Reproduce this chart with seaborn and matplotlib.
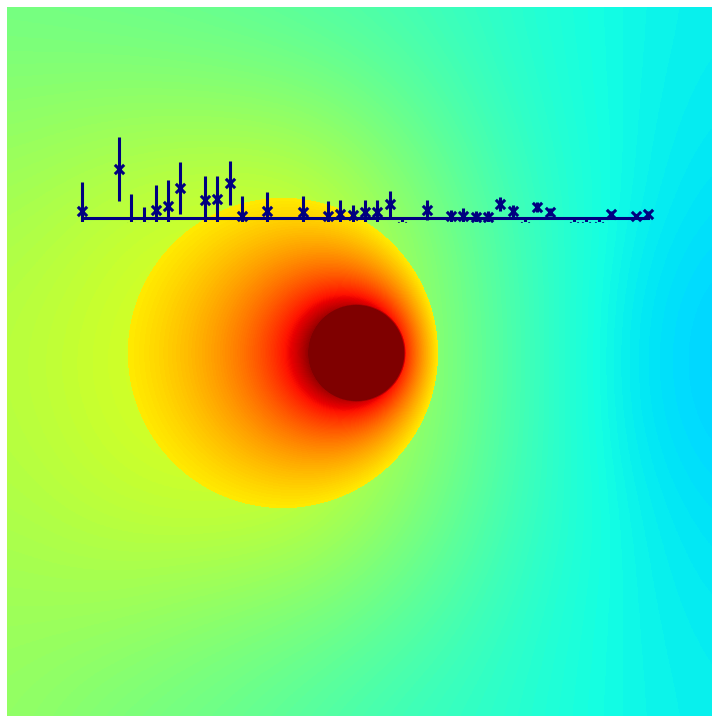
import numpy as np
import matplotlib
matplotlib.use("Agg")
import matplotlib.pyplot as plt
import seaborn as sns
import pandas as pd

# ---- error-bar series (x = sample index, y = value above baseline, symmetric error) ----
sample_idx = [0, 3, 4, 5, 6, 7, 8, 10, 11, 12, 13, 15, 18, 20, 21, 22, 23, 24, 25, 26,
              28, 30, 31, 32, 33, 34, 35, 36, 37, 38, 40, 41, 42, 43, 45, 46]
sample_val = [0.7, 4.9, -1.0, -1.0, 0.8, 1.2, 3.0, 1.8, 1.9, 3.5, 0.2, 0.7, 0.6, 0.2, 0.4, 0.3,
              0.6, 0.6, 1.4, -0.9, 0.8, 0.2, 0.2, 0.1, 0.1, 1.4, 0.7, -0.9, 1.1, 0.6,
              -0.9, -0.9, -0.9, 0.4, 0.2, 0.4]
sample_err = [2.9, 3.2, 3.4, 2.1, 2.5, 2.6, 2.6, 2.4, 2.3, 2.2, 2.0, 1.9, 1.6, 1.5, 1.4, 1.0,
              1.2, 1.2, 1.3, 0.8, 1.0, 0.6, 0.8, 0.6, 0.6, 0.7, 0.6, 0.8, 0.5, 0.4,
              0.8, 0.8, 0.8, 0.3, 0.2, 0.3]

# ---- background field read on a coarse 8x8 grid (rows top -> bottom) ----
field_row0 = [0.49, 0.48, 0.47, 0.45, 0.43, 0.40, 0.37, 0.36]
field_row1 = [0.52, 0.53, 0.53, 0.52, 0.47, 0.41, 0.37, 0.355]
field_row2 = [0.55, 0.58, 0.60, 0.60, 0.52, 0.43, 0.37, 0.345]
field_row3 = [0.57, 0.60, 0.62, 0.62, 0.54, 0.44, 0.36, 0.33]
field_row4 = [0.57, 0.60, 0.62, 0.62, 0.54, 0.44, 0.36, 0.33]
field_row5 = [0.56, 0.58, 0.59, 0.58, 0.51, 0.43, 0.37, 0.345]
field_row6 = [0.54, 0.54, 0.52, 0.50, 0.46, 0.41, 0.37, 0.355]
field_row7 = [0.53, 0.50, 0.48, 0.45, 0.42, 0.40, 0.37, 0.36]

# ---- circular inclusion parameters (reference pixel space) ----
hot_center = (357.0, 353.0)
hot_radius = 47.0
image_point = (607.7, 353.0)
inner_edge_u = -0.739
inner_edge_val = 0.66
inner_slope = 0.30

FIG_W, FIG_H = 719, 723
L, T, R, B = 7, 7, 712, 716

sns.set_theme(style="white")
fig = plt.figure(figsize=(FIG_W / 100, FIG_H / 100), dpi=100, facecolor="white")
ax = fig.add_axes([L / FIG_W, 1 - B / FIG_H, (R - L) / FIG_W, (B - T) / FIG_H])

grid = np.array([field_row0, field_row1, field_row2, field_row3,
                 field_row4, field_row5, field_row6, field_row7])
ny, nx = grid.shape
hx = (R - L) / (nx - 1) / 2
hy = (B - T) / (ny - 1) / 2
ax.imshow(grid, cmap="jet", vmin=0, vmax=1, extent=(L - hx, R + hx, B + hy, T - hy),
          aspect="auto", interpolation="bicubic")

# inclusion overlay
W, H = R - L, B - T
yy, xx = np.mgrid[0:H, 0:W].astype(float)
X = xx + 0.5 + L
Y = yy + 0.5 + T
r1 = np.hypot(X - hot_center[0], Y - hot_center[1])
r2 = np.hypot(X - image_point[0], Y - image_point[1])
u = np.log(np.maximum(r1, 1e-6) / r2)
f_in = inner_edge_val + inner_slope * (inner_edge_u - u)
core = np.clip((hot_radius + 2 - r1) / 4.0, 0, 1)
f_in = f_in * (1 - core) + 1.1 * core
f_in = np.ma.masked_where(u >= inner_edge_u, f_in)
ax.imshow(f_in, cmap="jet", vmin=0, vmax=1, extent=(L, R, B, T), aspect="auto",
          interpolation="nearest")
ax.set_xlim(L, R)
ax.set_ylim(B, T)
ax.set_axis_off()

# ---- overlay axes for the error bars ----
x0_px, dx_px = 82.0, 12.304
xlo, xhi = -1, 47
ylo, yhi = -0.4, 10.0
base_py = 218.0
px_per_unit = 10.0
left_px = x0_px + xlo * dx_px
right_px = x0_px + xhi * dx_px
bottom_py = base_py - ylo * px_per_unit
top_py = base_py - yhi * px_per_unit
ax2 = fig.add_axes([left_px / FIG_W, 1 - bottom_py / FIG_H,
                    (right_px - left_px) / FIG_W, (bottom_py - top_py) / FIG_H])
ax2.patch.set_alpha(0)
navy = "#000080"
df = pd.DataFrame({"i": sample_idx, "v": sample_val, "e": sample_err})
ax2.errorbar(df["i"], df["v"], yerr=df["e"], fmt="none", ecolor=navy, elinewidth=2.2)
ax2.plot([sample_idx[0], sample_idx[-1]], [0, 0], color=navy, lw=2.2,
         solid_capstyle="projecting")
sns.scatterplot(data=df, x="i", y="v", marker="x", s=45, color=navy, linewidth=2.2,
                ax=ax2, legend=False)
ax2.set_xlim(xlo, xhi)
ax2.set_ylim(ylo, yhi)
ax2.set_axis_off()

fig.savefig("out.png", dpi=100, facecolor="white")
